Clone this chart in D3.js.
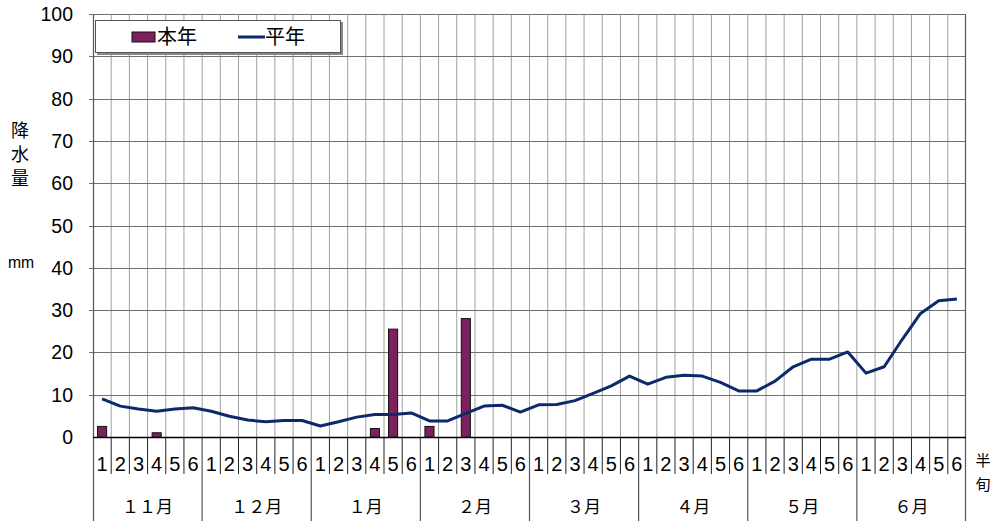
<!DOCTYPE html>
<html>
<head>
<meta charset="utf-8">
<script src="https://cdn.jsdelivr.net/npm/d3@7"></script>
<style>
  html, body { margin: 0; padding: 0; background: #fff; }
  svg { display: block; }
</style>
</head>
<body>
<svg id="chart" width="991" height="521"></svg>
<script>
// Half-month (5-day) precipitation, November to June
const months = ["１１月", "１２月", "１月", "２月", "３月", "４月", "５月", "６月"];
const pentadLabels = ["1", "2", "3", "4", "5", "6"];
const yTicks = [0, 10, 20, 30, 40, 50, 60, 70, 80, 90, 100];

// 本年 (this season), mm per pentad; null = not yet observed
const thisYear = [
  2.5, 0, 0, 1.0, 0, 0,
  0, 0, 0, 0, 0, 0,
  0, 0, 0, 2.0, 25.5, 0,
  2.5, 0, 28.0, null, null, null,
  null, null, null, null, null, null,
  null, null, null, null, null, null,
  null, null, null, null, null, null,
  null, null, null, null, null, null
];

// 平年 (normal), mm per pentad
const normal = [
  9.0, 7.3, 6.6, 6.1, 6.6, 6.9,
  6.1, 4.9, 4.0, 3.6, 3.9, 3.9,
  2.6, 3.6, 4.7, 5.3, 5.3, 5.7,
  3.8, 3.8, 5.6, 7.3, 7.5, 5.9,
  7.6, 7.7, 8.6, 10.3, 12.1, 14.4,
  12.5, 14.1, 14.6, 14.4, 12.9, 10.9,
  10.9, 13.2, 16.6, 18.4, 18.4, 20.1,
  15.1, 16.6, 23.1, 29.2, 32.2, 32.6
];

const svg = d3.select("#chart");
const plotL = 93, plotR = 966, plotT = 14, plotB = 437;
const n = months.length * pentadLabels.length;
const idx = d3.range(n);

const x = d3.scaleBand().domain(idx).range([plotL, plotR])
  .paddingInner(0.5).paddingOuter(0.25);
const step = x.step();
const edge = i => plotL + i * step;          // boundary left of pentad i
const cx = i => x(i) + x.bandwidth() / 2;    // centre of pentad i
const y = d3.scaleLinear().domain([0, 100]).range([plotB, plotT]);

const numFont = "'Liberation Sans', Arial, sans-serif";
const jpFont = "'Noto Sans CJK JP', sans-serif";

// vertical grid at every pentad boundary
svg.append("g").selectAll("line").data(d3.range(1, n)).join("line")
  .attr("x1", d => edge(d)).attr("x2", d => edge(d))
  .attr("y1", plotT).attr("y2", plotB)
  .attr("stroke", "#a0a0a0").attr("stroke-width", 1);

// horizontal grid
svg.append("g").selectAll("line").data(yTicks.filter(v => v > 0)).join("line")
  .attr("x1", plotL - 4).attr("x2", plotR)
  .attr("y1", d => Math.round(y(d)) + 0.5).attr("y2", d => Math.round(y(d)) + 0.5)
  .attr("stroke", "#707070").attr("stroke-width", 1);

// plot frame: left axis, right edge
svg.append("line").attr("x1", plotL + 0.5).attr("x2", plotL + 0.5)
  .attr("y1", plotT).attr("y2", 521).attr("stroke", "#555").attr("stroke-width", 1.2);
svg.append("line").attr("x1", plotR - 0.5).attr("x2", plotR - 0.5)
  .attr("y1", plotT).attr("y2", 521).attr("stroke", "#555").attr("stroke-width", 1.2);

// y tick labels
svg.append("g").selectAll("text").data(yTicks).join("text")
  .attr("x", 73).attr("y", d => y(d) + 7)
  .attr("text-anchor", "end")
  .attr("font-family", numFont).attr("font-size", 19.5).attr("fill", "#000")
  .text(d => d);

// category axis below the plot
const below = svg.append("g");
below.selectAll("line.tick").data(d3.range(1, n).filter(i => i % 6 !== 0)).join("line")
  .attr("class", "tick")
  .attr("x1", d => edge(d)).attr("x2", d => edge(d))
  .attr("y1", plotB).attr("y2", 474)
  .attr("stroke", "#222").attr("stroke-width", 1);
below.selectAll("line.month").data(d3.range(1, months.length)).join("line")
  .attr("class", "month")
  .attr("x1", d => edge(d * 6)).attr("x2", d => edge(d * 6))
  .attr("y1", plotB).attr("y2", 521)
  .attr("stroke", "#555").attr("stroke-width", 1.2);
below.selectAll("text.p").data(idx).join("text")
  .attr("class", "p")
  .attr("x", d => cx(d)).attr("y", 471)
  .attr("text-anchor", "middle")
  .attr("font-family", numFont).attr("font-size", 20).attr("fill", "#000")
  .text(d => pentadLabels[d % 6]);
below.selectAll("text.m").data(months).join("text")
  .attr("class", "m")
  .attr("x", (d, i) => edge(i * 6) + step * 3).attr("y", 513)
  .attr("text-anchor", "middle")
  .attr("font-family", jpFont).attr("font-size", 17).attr("fill", "#000")
  .text(d => d);

// x axis line at zero
svg.append("line").attr("x1", plotL).attr("x2", plotR)
  .attr("y1", plotB + 0.5).attr("y2", plotB + 0.5)
  .attr("stroke", "#000").attr("stroke-width", 1.5);

// 本年 bars
svg.append("g").selectAll("rect")
  .data(idx.filter(i => thisYear[i] != null && thisYear[i] > 0)).join("rect")
  .attr("x", d => x(d)).attr("width", x.bandwidth())
  .attr("y", d => y(thisYear[d])).attr("height", d => plotB - y(thisYear[d]))
  .attr("fill", "#7e1f5e").attr("stroke", "#111").attr("stroke-width", 1);

// 平年 line
svg.append("path").datum(idx)
  .attr("d", d3.line().x(d => cx(d)).y(d => y(normal[d])))
  .attr("fill", "none").attr("stroke", "#0c2a6a").attr("stroke-width", 3)
  .attr("stroke-linejoin", "round");

// axis titles
const yTitle = ["降", "水", "量"];
svg.append("g").selectAll("text").data(yTitle).join("text")
  .attr("x", 20).attr("y", (d, i) => 137 + i * 24)
  .attr("text-anchor", "middle")
  .attr("font-family", jpFont).attr("font-size", 18).attr("fill", "#000")
  .text(d => d);
svg.append("text")
  .attr("text-anchor", "middle")
  .attr("font-family", numFont).attr("font-size", 21)
  .attr("transform", "translate(21,268) scale(0.75,0.8)")
  .text("mm");
svg.append("g").selectAll("text").data(["半", "旬"]).join("text")
  .attr("x", 983).attr("y", (d, i) => 466 + i * 24)
  .attr("text-anchor", "middle")
  .attr("font-family", jpFont).attr("font-size", 15).attr("fill", "#000")
  .text(d => d);

// legend
const lg = svg.append("g");
lg.append("rect").attr("x", 97).attr("y", 22).attr("width", 246).attr("height", 33)
  .attr("fill", "#888");
lg.append("rect").attr("x", 95.5).attr("y", 20.5).attr("width", 245).attr("height", 32)
  .attr("fill", "#fff").attr("stroke", "#555").attr("stroke-width", 1);
lg.append("rect").attr("x", 132).attr("y", 32).attr("width", 23).attr("height", 10)
  .attr("fill", "#7e1f5e").attr("stroke", "#111").attr("stroke-width", 1);
lg.append("text").attr("x", 157).attr("y", 44)
  .attr("font-family", jpFont).attr("font-size", 20).text("本年");
lg.append("line").attr("x1", 238).attr("x2", 265).attr("y1", 37).attr("y2", 37)
  .attr("stroke", "#0c2a6a").attr("stroke-width", 3);
lg.append("text").attr("x", 265).attr("y", 44)
  .attr("font-family", jpFont).attr("font-size", 20).text("平年");
</script>
</body>
</html>
